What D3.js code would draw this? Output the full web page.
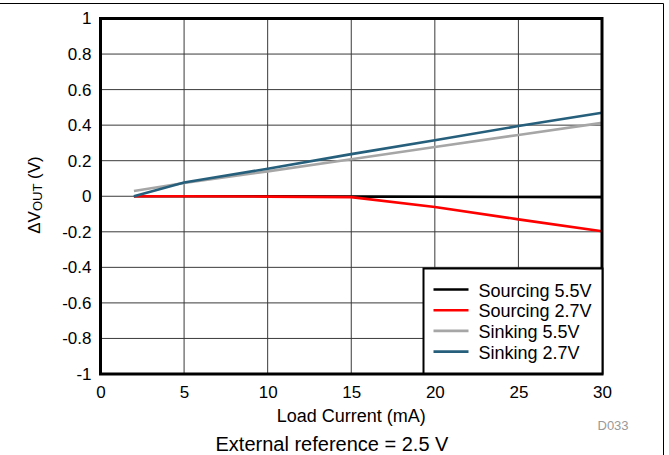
<!DOCTYPE html>
<html>
<head>
<meta charset="utf-8">
<script src="https://cdn.jsdelivr.net/npm/d3@7"></script>
<style>
  body { margin: 0; background: #fff; }
  text { font-family: "Liberation Sans", Arial, Helvetica, sans-serif; }
</style>
</head>
<body>
<div id="chart"></div>
<script>
// load current (mA) and output change (V) per series
var loadCurrent = [2, 5, 10, 15, 20, 25, 30];
var sourcing55 = [0, 0, 0, -0.002, -0.003, -0.004, -0.005];
var sourcing27 = [0, 0, -0.002, -0.005, -0.06, -0.13, -0.197];
var sinking55 = [0.03, 0.075, 0.14, 0.208, 0.277, 0.345, 0.413];
var sinking27 = [0, 0.077, 0.155, 0.237, 0.315, 0.395, 0.47];

var seriesNames = ["Sourcing 5.5V", "Sourcing 2.7V", "Sinking 5.5V", "Sinking 2.7V"];
var seriesValues = [sourcing55, sourcing27, sinking55, sinking27];
var seriesColors = ["#000000", "#ff0000", "#a6a6a6", "#265f7b"];

var xTicks = [0, 5, 10, 15, 20, 25, 30];
var yTicks = [-1, -0.8, -0.6, -0.4, -0.2, 0, 0.2, 0.4, 0.6, 0.8, 1];

var svgWidth = 669, svgHeight = 455;
var margin = { top: 18.5, right: 67, bottom: 81, left: 100.5 };
var width = svgWidth - margin.left - margin.right;
var height = svgHeight - margin.top - margin.bottom;

var svg = d3.select("#chart").append("svg")
  .attr("width", svgWidth)
  .attr("height", svgHeight);

// outer page border (top + right)
svg.append("path")
  .attr("d", "M0,3.5H663.5V455")
  .attr("fill", "none")
  .attr("stroke", "#000")
  .attr("stroke-width", 1);

var chartGroup = svg.append("g")
  .attr("transform", `translate(${margin.left}, ${margin.top})`);

var x = d3.scaleLinear().domain([0, 30]).range([0, width]);
var y = d3.scaleLinear().domain([-1, 1]).range([height, 0]);

// grid
chartGroup.append("g")
  .selectAll("line.v")
  .data(xTicks.slice(1, -1))
  .enter().append("line")
  .attr("x1", d => x(d)).attr("x2", d => x(d))
  .attr("y1", 0).attr("y2", height)
  .attr("stroke", "#3a3a3a").attr("stroke-width", 1);

chartGroup.append("g")
  .selectAll("line.h")
  .data(yTicks.slice(1, -1))
  .enter().append("line")
  .attr("x1", 0).attr("x2", width)
  .attr("y1", d => y(d)).attr("y2", d => y(d))
  .attr("stroke", "#3a3a3a").attr("stroke-width", 1);

// axes (labels only), plain hyphen for negatives
var xAxis = chartGroup.append("g")
  .attr("transform", `translate(0, ${height})`)
  .call(d3.axisBottom(x).tickValues(xTicks).tickSize(0).tickPadding(12).tickFormat(d => String(d)));
xAxis.select(".domain").remove();
xAxis.selectAll("text").attr("font-size", "17px").attr("fill", "#000")
  .attr("font-family", "Liberation Sans, Arial, sans-serif");

var yAxis = chartGroup.append("g")
  .call(d3.axisLeft(y).tickValues(yTicks).tickSize(0).tickPadding(9).tickFormat(d => String(+d.toFixed(1))));
yAxis.select(".domain").remove();
yAxis.selectAll("text").attr("font-size", "17px").attr("fill", "#000")
  .attr("font-family", "Liberation Sans, Arial, sans-serif");

// data lines
var line = d3.line()
  .x((d, i) => x(loadCurrent[i]))
  .y(d => y(d));

chartGroup.selectAll("path.series")
  .data(seriesValues)
  .enter().append("path")
  .attr("class", "series")
  .attr("d", d => line(d))
  .attr("fill", "none")
  .attr("stroke", (d, i) => seriesColors[i])
  .attr("stroke-width", 2.6);

// plot frame
chartGroup.append("rect")
  .attr("x", 0).attr("y", 0)
  .attr("width", width).attr("height", height)
  .attr("fill", "none")
  .attr("stroke", "#000")
  .attr("stroke-width", 3);

// legend
var legend = svg.append("g").attr("transform", "translate(423.5, 268.5)");
legend.append("rect")
  .attr("width", 179).attr("height", 105)
  .attr("fill", "#fff")
  .attr("stroke", "#000")
  .attr("stroke-width", 2);

seriesNames.forEach(function(name, i) {
  var ly = 22 + i * 20.7;
  legend.append("line")
    .attr("x1", 10).attr("x2", 45)
    .attr("y1", ly - 1).attr("y2", ly - 1)
    .attr("stroke", seriesColors[i])
    .attr("stroke-width", 2.6);
  legend.append("text")
    .attr("x", 55).attr("y", ly + 6)
    .attr("font-size", "18px")
    .text(name);
});

// axis titles
svg.append("text")
  .attr("x", margin.left + width / 2).attr("y", 422)
  .attr("text-anchor", "middle")
  .attr("font-size", "18px")
  .text("Load Current (mA)");

var yTitle = svg.append("text")
  .attr("transform", "translate(40, 195) rotate(-90)")
  .attr("text-anchor", "middle")
  .attr("font-size", "17px");
yTitle.append("tspan").text("\u0394V");
yTitle.append("tspan").attr("font-size", "13px").attr("dy", 2).text("OUT");
yTitle.append("tspan").attr("dy", -2).text(" (V)");

svg.append("text")
  .attr("x", 597.5).attr("y", 430)
  .attr("font-size", "13px")
  .attr("fill", "#999")
  .text("D033");

svg.append("text")
  .attr("x", 332).attr("y", 451)
  .attr("text-anchor", "middle")
  .attr("font-size", "20px")
  .text("External reference = 2.5 V");
</script>
</body>
</html>
